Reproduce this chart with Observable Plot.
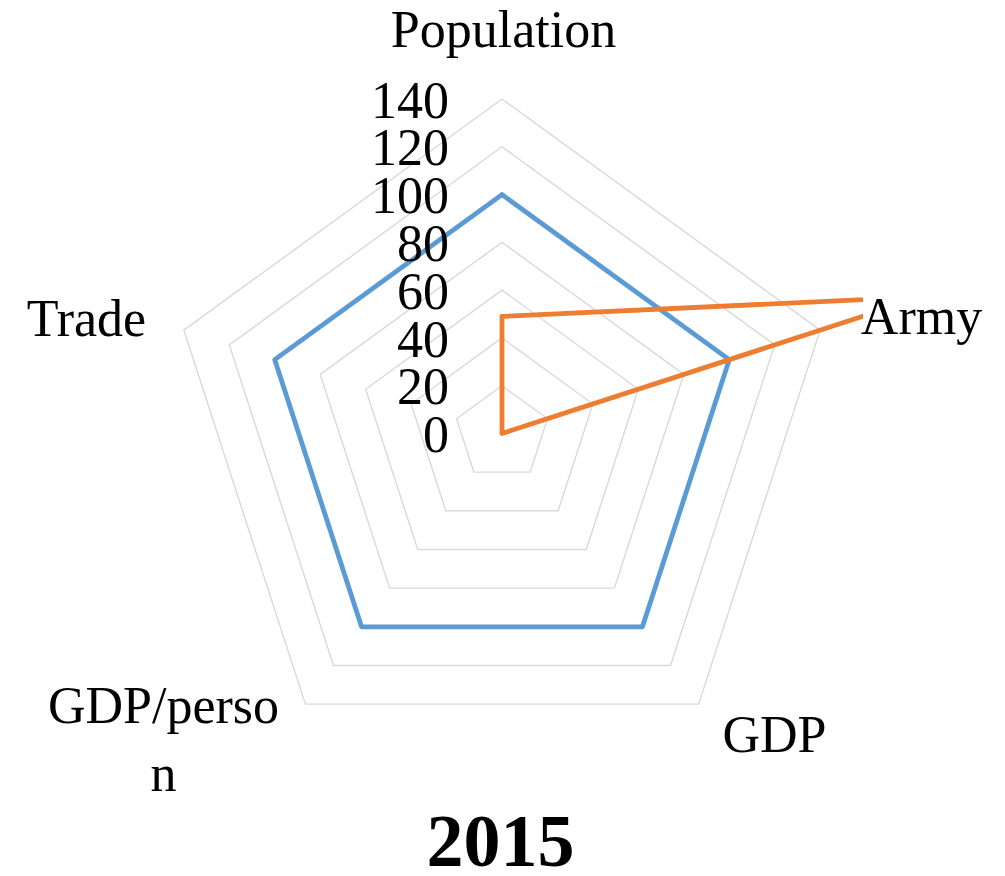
<!DOCTYPE html>
<html>
<head>
<meta charset="utf-8">
<script src="https://cdn.jsdelivr.net/npm/d3@7"></script>
<script src="https://cdn.jsdelivr.net/npm/@observablehq/plot@0.6"></script>
<style>
  html, body { margin: 0; padding: 0; background: #ffffff; }
</style>
</head>
<body>
<div id="chart"></div>
<script>
// ---- data ----
const categories = ["Population", "Army", "GDP", "GDP/person", "Trade"];
const categoryLabels = ["Population", "Army", "GDP", "GDP/perso\nn", "Trade"];
const seriesNames = ["Series1", "Series2"];
const series1 = [100, 100, 100, 100, 100];
const series2 = [49, 185, 0, 0, 0];
const ringLevels = [20, 40, 60, 80, 100, 120, 140];
const tickValues = [0, 20, 40, 60, 80, 100, 120, 140];
const chartTitle = "2015";

// ---- layout ----
const W = 1005, H = 876;
const cx = 501.5, cy = 433, rMax = 334.5, vMax = 140;
const k = rMax / vMax;          // pixels per unit
const clipRight = 863;          // right edge of plot area
const n = categories.length;
const angle = i => Math.PI / 2 - (i % n) * 2 * Math.PI / n;
const px = (v, i) => v * Math.cos(angle(i));
const py = (v, i) => v * Math.sin(angle(i));
// label nudges (pixels) from the outer ring vertex
const labelNudge = [[1.5, -73.3], [101.4, -18.1], [75.9, 26.9], [-141.9, 31.4], [-97.4, -16.1]];

const rings = ringLevels.flatMap(level =>
  d3.range(n + 1).map(j => ({level, x: px(level, j), y: py(level, j)}))
);

const seriesRows = [series1, series2].flatMap((vals, s) =>
  d3.range(n + 1).map(j => ({
    series: seriesNames[s],
    x: px(vals[j % n], j),
    y: py(vals[j % n], j)
  }))
);

const labelRows = categories.map((c, i) => ({
  text: categoryLabels[i],
  x: px(vMax, i) + labelNudge[i][0] / k,
  y: py(vMax, i) - labelNudge[i][1] / k
}));

const chart = Plot.plot({
  width: W,
  height: H,
  marginLeft: 0,
  marginRight: W - clipRight,
  marginTop: 0,
  marginBottom: 0,
  x: {domain: [-cx / k, (clipRight - cx) / k], axis: null},
  y: {domain: [(cy - H) / k, cy / k], axis: null},
  color: {domain: seriesNames, range: ["#5b9bd5", "#ed7d31"]},
  style: {fontFamily: "'Liberation Serif', 'Times New Roman', serif", background: "#ffffff", color: "#000000"},
  marks: [
    Plot.line(rings, {x: "x", y: "y", z: "level", stroke: "#d9d9d9", strokeWidth: 1.4}),
    Plot.line(seriesRows, {x: "x", y: "y", z: "series", stroke: "series", strokeWidth: 4.8,
      strokeLinejoin: "round", strokeLinecap: "round", clip: true}),
    Plot.text(tickValues, {x: 0, y: d => d, text: d => String(d), textAnchor: "end",
      dx: -53, dy: 2, fontSize: 52, fill: "#000000"}),
    Plot.text(labelRows, {x: "x", y: "y", text: "text", textAnchor: "middle",
      fontSize: 52, lineHeight: 1.29, fill: "#000000"}),
    Plot.text([chartTitle], {x: 0, frameAnchor: "bottom", lineAnchor: "middle", text: d => d,
      dx: -1.5, dy: -33.7, fontSize: 74, fontWeight: "bold", fill: "#000000"})
  ]
});

document.getElementById("chart").appendChild(chart);
</script>
</body>
</html>
